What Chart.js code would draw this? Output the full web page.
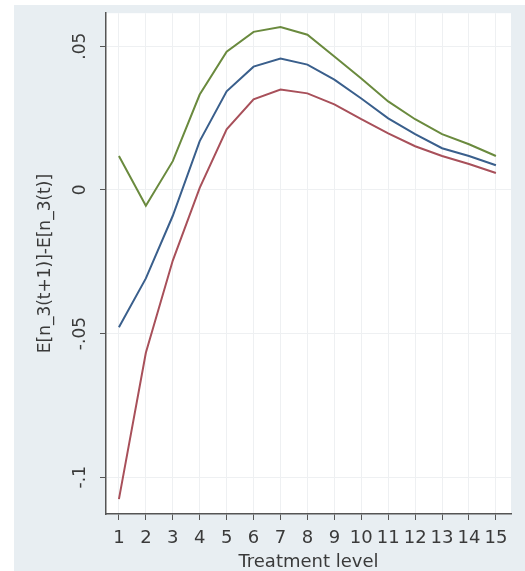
<!DOCTYPE html>
<html>
<head>
<meta charset="utf-8">
<script src="https://cdn.jsdelivr.net/npm/chart.js@4"></script>
<style>
  html, body { margin: 0; padding: 0; background: #fff; }
  #wrap { width: 525px; height: 571px; }
</style>
</head>
<body>
<div id="wrap"><canvas id="chart" width="525" height="571"></canvas></div>
<script>
// Treatment levels and the three estimated series
const levels = [1, 2, 3, 4, 5, 6, 7, 8, 9, 10, 11, 12, 13, 14, 15];
const upperBand = [0.0118, -0.0055, 0.010, 0.0332, 0.0481, 0.055, 0.0567, 0.054, 0.0464, 0.0388, 0.0308, 0.0246, 0.0194, 0.0159, 0.0118];
const estimate  = [-0.0478, -0.0308, -0.009, 0.017, 0.0343, 0.0429, 0.0457, 0.0436, 0.0384, 0.0318, 0.0249, 0.0194, 0.0145, 0.0118, 0.0086];
const lowerBand = [-0.1076, -0.0567, -0.0246, 0.0007, 0.0211, 0.0315, 0.0349, 0.0336, 0.0298, 0.0246, 0.0197, 0.0152, 0.0118, 0.009, 0.0059];
const yTicks = [-0.1, -0.05, 0, 0.05];
const yTickLabels = ['-.1', '-.05', '0', '.05'];

const FONT = 'DejaVu Sans, sans-serif';
const TEXT = '#3a3a3a';

// Stata-like panel: bluish-gray graph region, white plot region
const panelBg = {
  id: 'panelBg',
  beforeDraw(chart) {
    const { ctx, chartArea: a } = chart;
    ctx.save();
    ctx.fillStyle = '#ffffff';
    ctx.fillRect(0, 0, chart.width, chart.height);
    ctx.fillStyle = '#e8eef2';
    ctx.fillRect(14, 5, chart.width - 14, chart.height - 5);
    ctx.fillStyle = '#ffffff';
    ctx.fillRect(a.left, a.top, a.right - a.left, a.bottom - a.top);
    ctx.restore();
  }
};

const toPoints = vals => vals.map((v, i) => ({ x: levels[i], y: v }));

new Chart(document.getElementById('chart'), {
  type: 'line',
  data: {
    datasets: [
      { data: toPoints(upperBand), borderColor: '#6a8a3e', borderWidth: 2 },
      { data: toPoints(estimate), borderColor: '#3a5f8c', borderWidth: 2 },
      { data: toPoints(lowerBand), borderColor: '#a8505a', borderWidth: 2 }
    ]
  },
  options: {
    responsive: false,
    animation: false,
    layout: { padding: { top: 11, right: 14, bottom: 0, left: 0 } },
    elements: { point: { radius: 0 }, line: { tension: 0 } },
    plugins: { legend: { display: false }, tooltip: { enabled: false } },
    scales: {
      x: {
        type: 'linear',
        min: 0.52,
        max: 15.56,
        afterBuildTicks: s => { s.ticks = levels.map(v => ({ value: v })); },
        afterFit: s => { s.height = 57; },
        ticks: { color: TEXT, font: { family: FONT, size: 18 }, padding: 8, maxRotation: 0,
                 callback: v => String(v) },
        grid: { color: '#eef0f2', tickColor: '#555', tickLength: 6 },
        border: { color: '#555', width: 1.5 },
        title: { display: true, text: 'Treatment level', color: TEXT,
                 font: { family: FONT, size: 18 }, padding: { top: 0, bottom: -2 } }
      },
      y: {
        min: -0.1128,
        max: 0.0615,
        afterBuildTicks: s => { s.ticks = yTicks.map(v => ({ value: v })); },
        afterFit: s => { s.width = 106; },
        ticks: { color: TEXT, font: { family: FONT, size: 17 }, padding: 3,
                 minRotation: 90, maxRotation: 90, crossAlign: 'center',
                 callback: v => yTickLabels[yTicks.indexOf(v)] },
        grid: { color: '#eef0f2', tickColor: '#555', tickLength: 6 },
        border: { color: '#555', width: 1.5 },
        title: { display: true, text: 'E[n_3(t+1)]-E[n_3(t)]', color: TEXT,
                 font: { family: FONT, size: 17 }, padding: { top: 35, bottom: 0 } }
      }
    }
  },
  plugins: [panelBg]
});
</script>
</body>
</html>
